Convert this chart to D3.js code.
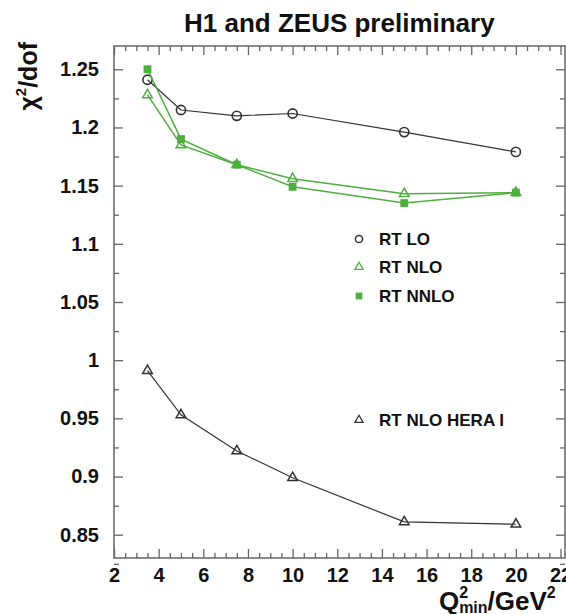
<!DOCTYPE html>
<html>
<head>
<meta charset="utf-8">
<script src="https://cdn.jsdelivr.net/npm/d3@7"></script>
<style>
    body { margin: 0; background: #fff; }
    svg { display: block; font-family: "Liberation Sans", Arial, sans-serif; font-weight: bold; }
    .tick text { fill: #111; }
</style>
</head>
<body>
<svg id="chart" width="566" height="614"></svg>
<script>
// values
const qMin = [3.5, 5, 7.5, 10, 15, 20];
const rtLO = [1.241, 1.215, 1.210, 1.212, 1.196, 1.179];
const rtNLO = [1.228, 1.185, 1.168, 1.156, 1.143, 1.144];
const rtNNLO = [1.250, 1.190, 1.168, 1.149, 1.135, 1.144];
const rtNLOHeraI = [0.991, 0.953, 0.922, 0.899, 0.861, 0.859];

const xTickValues = [2, 4, 6, 8, 10, 12, 14, 16, 18, 20, 22];
const yTickValues = [0.85, 0.9, 0.95, 1, 1.05, 1.1, 1.15, 1.2, 1.25];

const legendLabels = ["RT LO", "RT NLO", "RT NNLO", "RT NLO HERA I"];

const green = "#4fae40";
const dark = "#333";

const width = 566, height = 614;
const margin = {top: 46, right: 1, bottom: 56, left: 114};

const svg = d3.select("#chart");

const x = d3.scaleLinear().domain([2, 22.2]).range([margin.left, width - margin.right]);
const y = d3.scaleLinear().domain([0.83, 1.27]).range([height - margin.bottom, margin.top]);

const xMinor = d3.range(4, 45).map(i => i / 2).filter(v => v % 2 !== 0);
const yMinor = d3.range(33, 51).map(i => i * 0.025).filter(v => Math.abs(v * 20 - Math.round(v * 20)) > 1e-6);

const fmt = d3.format("~g");

// axes - ticks inward on all four sides
function styleAxis(g)
{
    g.select(".domain").remove();
    g.selectAll(".tick line").attr("stroke", "#666").attr("stroke-width", 1.3);
}

svg.append("g")
    .attr("transform", `translate(0,${y.range()[0]})`)
    .call(d3.axisBottom(x).tickValues(xTickValues).tickFormat(fmt).tickSize(-9).tickPadding(10).tickSizeOuter(0))
    .call(styleAxis)
    .call(g => g.selectAll("text").attr("font-size", 20).attr("font-family", null));

svg.append("g")
    .attr("transform", `translate(0,${y.range()[0]})`)
    .call(d3.axisBottom(x).tickValues(xMinor).tickFormat("").tickSize(-5))
    .call(styleAxis);

svg.append("g")
    .attr("transform", `translate(0,${y.range()[1]})`)
    .call(d3.axisTop(x).tickValues(xTickValues).tickFormat("").tickSize(-9))
    .call(styleAxis);

svg.append("g")
    .attr("transform", `translate(0,${y.range()[1]})`)
    .call(d3.axisTop(x).tickValues(xMinor).tickFormat("").tickSize(-5))
    .call(styleAxis);

svg.append("g")
    .attr("transform", `translate(${x.range()[0]},0)`)
    .call(d3.axisLeft(y).tickValues(yTickValues).tickFormat(fmt).tickSize(-9).tickPadding(15))
    .call(styleAxis)
    .call(g => g.selectAll("text").attr("font-size", 20).attr("font-family", null));

svg.append("g")
    .attr("transform", `translate(${x.range()[0]},0)`)
    .call(d3.axisLeft(y).tickValues(yMinor).tickFormat("").tickSize(-5))
    .call(styleAxis);

svg.append("g")
    .attr("transform", `translate(${x.range()[1]},0)`)
    .call(d3.axisRight(y).tickValues(yTickValues).tickFormat("").tickSize(-9))
    .call(styleAxis);

svg.append("g")
    .attr("transform", `translate(${x.range()[1]},0)`)
    .call(d3.axisRight(y).tickValues(yMinor).tickFormat("").tickSize(-5))
    .call(styleAxis);

// frame
svg.append("rect")
    .attr("x", x.range()[0])
    .attr("y", y.range()[1])
    .attr("width", x.range()[1] - x.range()[0])
    .attr("height", y.range()[0] - y.range()[1])
    .attr("fill", "none")
    .attr("stroke", "#666")
    .attr("stroke-width", 1.5);

// series
const series = [
    {values: rtLO, color: dark, symbol: "circle", width: 1.2},
    {values: rtNLO, color: green, symbol: "openTriangle", width: 1.5},
    {values: rtNNLO, color: green, symbol: "square", width: 1.5},
    {values: rtNLOHeraI, color: dark, symbol: "openTriangle", width: 1.2}
];

const line = d3.line().x(d => x(d[0])).y(d => y(d[1]));

function drawMarker(g, kind, color)
{
    if (kind === "circle")
    {
        g.append("circle").attr("r", 4.6).attr("fill", "none").attr("stroke", color).attr("stroke-width", 1.6);
    }
    else if (kind === "openTriangle")
    {
        g.append("path").attr("d", d3.symbol(d3.symbolTriangle, 40)())
            .attr("fill", "none").attr("stroke", color).attr("stroke-width", 1.5);
    }
    else
    {
        g.append("path").attr("d", d3.symbol(d3.symbolSquare, 62)()).attr("fill", color);
    }
}

for (let s of series)
{
    const pts = qMin.map((q, i) => [q, s.values[i]]);

    svg.append("path")
        .datum(pts)
        .attr("d", line)
        .attr("fill", "none")
        .attr("stroke", s.color)
        .attr("stroke-width", s.width);

    svg.append("g").selectAll("g")
        .data(pts)
        .join("g")
        .attr("transform", d => `translate(${x(d[0])},${y(d[1])})`)
        .each(function () { drawMarker(d3.select(this), s.symbol, s.color); });
}

// legend
const legendRows = [239, 267, 296, 420];
legendLabels.forEach((label, i) => {
    const g = svg.append("g").attr("transform", `translate(359,${legendRows[i]})`);
    drawMarker(g, series[i].symbol, series[i].color);
    g.select("circle").attr("r", 3.6).attr("stroke-width", 1.5);
    g.select("path").attr("transform", "scale(0.85)");
    g.append("text")
        .attr("x", 20)
        .attr("dy", "0.36em")
        .attr("font-size", 17)
        .attr("fill", "#111")
        .text(label);
});

// title and axis titles
svg.append("text")
    .attr("x", 184)
    .attr("y", 32)
    .attr("font-size", 26)
    .attr("fill", "#111")
    .text("H1 and ZEUS preliminary");

const yTitle = svg.append("text")
    .attr("transform", "translate(37,42) rotate(-90)")
    .attr("text-anchor", "end")
    .attr("font-size", 25)
    .attr("fill", "#111");
yTitle.append("tspan").text("χ");
yTitle.append("tspan").attr("font-size", 15).attr("dy", -11).text("2");
yTitle.append("tspan").attr("dy", 11).text("/dof");

const xTitle = svg.append("text")
    .attr("x", 439)
    .attr("y", 610)
    .attr("font-size", 26)
    .attr("fill", "#111");
xTitle.append("tspan").text("Q");
xTitle.append("tspan").attr("font-size", 16).attr("dy", -12).text("2");
xTitle.append("tspan").attr("font-size", 16).attr("dx", -9).attr("dy", 15).text("min");
xTitle.append("tspan").attr("dy", -3).text("/GeV");
xTitle.append("tspan").attr("font-size", 16).attr("dy", -12).text("2");
</script>
</body>
</html>
